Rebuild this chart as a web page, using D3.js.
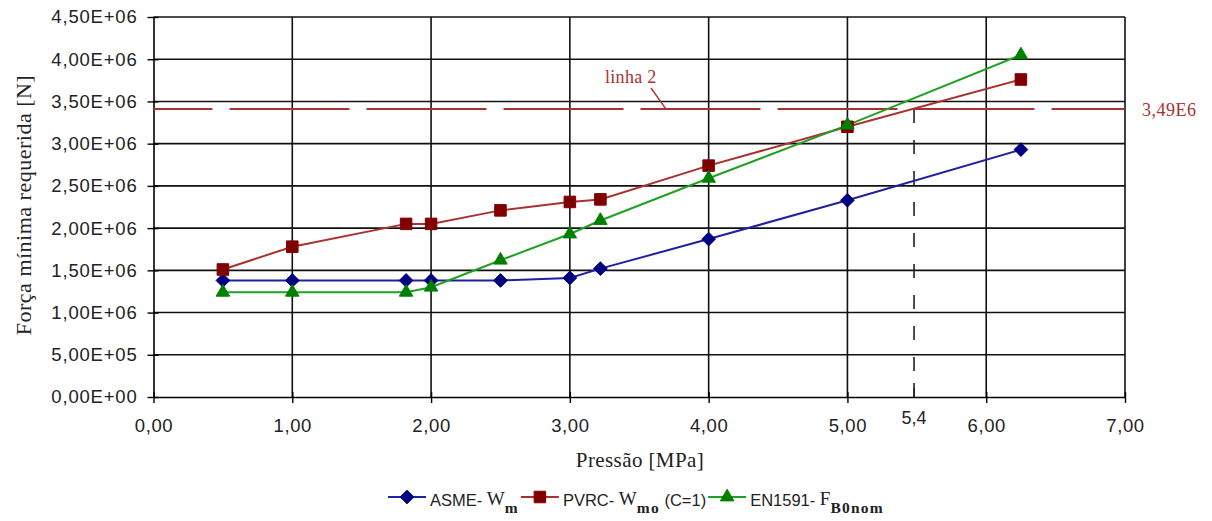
<!DOCTYPE html>
<html><head><meta charset="utf-8">
<script src="https://cdn.jsdelivr.net/npm/d3@7"></script>
<style>body{margin:0;background:#fff} svg{display:block}</style>
</head><body><svg id="c" width="1212" height="521"></svg>
<script>
// ---- data ----
const pressure = [0.5, 1.0, 1.82, 2.0, 2.5, 3.0, 3.22, 4.0, 5.0, 6.25];
const asme   = [1.38e6, 1.38e6, 1.38e6, 1.38e6, 1.38e6, 1.41e6, 1.52e6, 1.87e6, 2.33e6, 2.93e6];
const pvrc   = [1.51e6, 1.78e6, 2.05e6, 2.05e6, 2.21e6, 2.31e6, 2.34e6, 2.74e6, 3.20e6, 3.76e6];
const en1591 = [1.24e6, 1.24e6, 1.24e6, 1.30e6, 1.62e6, 1.93e6, 2.09e6, 2.59e6, 3.22e6, 4.05e6];
const xTicks = [0, 1, 2, 3, 4, 5, 6, 7];
const xTickLabels = ["0,00", "1,00", "2,00", "3,00", "4,00", "5,00", "6,00", "7,00"];
const yTicks = [0, 5e5, 1e6, 1.5e6, 2e6, 2.5e6, 3e6, 3.5e6, 4e6, 4.5e6];
const yTickLabels = ["0,00E+00", "5,00E+05", "1,00E+06", "1,50E+06", "2,00E+06", "2,50E+06", "3,00E+06", "3,50E+06", "4,00E+06", "4,50E+06"];
const refLineValue = 3.41e6;
const refLineLabel = "3,49E6";
const refLineName = "linha 2";
const markPressure = 5.48;
const markLabel = "5,4";
const xTitle = "Pressão [MPa]";
const yTitle = "Força mínima requerida [N]";
const legendNames = [
  ["ASME- ", "W", "m", ""],
  ["PVRC- ", "W", "mo", " (C=1)"],
  ["EN1591- ", "F", "B0nom", ""]
];

// ---- layout ----
const svg = d3.select("#c");
const x = d3.scaleLinear().domain([0, 7]).range([153.5, 1125]);
const y = d3.scaleLinear().domain([0, 4.5e6]).range([397, 17]);
const SANS = "'Liberation Sans', Arial, sans-serif";
const SERIF = "'Liberation Serif', 'Times New Roman', serif";

// gridlines
svg.append("g").selectAll("line").data(yTicks.slice(1)).join("line")
  .attr("x1", x(0)).attr("x2", x(7)).attr("y1", d => y(d)).attr("y2", d => y(d))
  .attr("stroke", "#111").attr("stroke-width", 1.6);
svg.append("g").selectAll("line").data(xTicks.slice(1)).join("line")
  .attr("x1", d => x(d)).attr("x2", d => x(d)).attr("y1", y(0)).attr("y2", y(4.5e6))
  .attr("stroke", "#111").attr("stroke-width", 1.6);

// axes
const yAxis = d3.axisLeft(y).tickValues(yTicks).tickFormat((d, i) => yTickLabels[i])
  .tickSizeInner(6).tickSizeOuter(0).tickPadding(10);
const yg = svg.append("g").attr("transform", `translate(${x(0)},0)`).call(yAxis);
yg.selectAll("text").attr("font-family", SANS).attr("font-size", 18.5).attr("letter-spacing", 0.8).attr("fill", "#222");
yg.selectAll("line").attr("x2", -6).attr("x1", 5).attr("stroke", "#000").attr("stroke-width", 1.4);
yg.select(".domain").attr("stroke", "#000").attr("stroke-width", 1.6);

const xAxis = d3.axisBottom(x).tickValues(xTicks).tickFormat((d, i) => xTickLabels[i])
  .tickSizeInner(6).tickSizeOuter(0).tickPadding(16);
const xg = svg.append("g").attr("transform", `translate(0,${y(0)})`).call(xAxis);
xg.selectAll("text").attr("font-family", SANS).attr("font-size", 18.5).attr("letter-spacing", 0.6).attr("fill", "#222");
xg.selectAll("line").attr("y1", -5).attr("stroke", "#000").attr("stroke-width", 1.4);
xg.select(".domain").attr("stroke", "#000").attr("stroke-width", 1.6);

// titles
svg.append("text").attr("x", 640).attr("y", 467).attr("text-anchor", "middle")
  .attr("font-family", SERIF).attr("font-size", 21).attr("letter-spacing", 0.4).attr("fill", "#222").text(xTitle);
svg.append("text").attr("transform", "translate(31,205) rotate(-90)").attr("text-anchor", "middle")
  .attr("font-family", SERIF).attr("font-size", 22).attr("letter-spacing", 0.5).attr("fill", "#222").text(yTitle);

// reference line (linha 2)
const refColor = "#a83232";
svg.append("line").attr("x1", x(0)).attr("x2", x(7)).attr("y1", y(refLineValue)).attr("y2", y(refLineValue))
  .attr("stroke", refColor).attr("stroke-width", 2).attr("stroke-dasharray", "120,17").attr("stroke-dashoffset", 61);
svg.append("text").attr("x", x(7) + 17).attr("y", y(refLineValue) + 7)
  .attr("font-family", SERIF).attr("font-size", 18).attr("letter-spacing", 0.5).attr("fill", refColor).text(refLineLabel);
svg.append("text").attr("x", 605).attr("y", 83)
  .attr("font-family", SERIF).attr("font-size", 18).attr("letter-spacing", 0.3).attr("fill", refColor).text(refLineName);
svg.append("line").attr("x1", 651).attr("y1", 88).attr("x2", 666).attr("y2", y(refLineValue))
  .attr("stroke", refColor).attr("stroke-width", 1.4);

// vertical marker at 5,4
svg.append("line").attr("x1", x(markPressure)).attr("x2", x(markPressure))
  .attr("y1", y(refLineValue)).attr("y2", y(0))
  .attr("stroke", "#222").attr("stroke-width", 1.6).attr("stroke-dasharray", "14,17");
svg.append("line").attr("x1", x(markPressure)).attr("x2", x(markPressure))
  .attr("y1", y(0) - 14).attr("y2", y(0)).attr("stroke", "#222").attr("stroke-width", 1.6);
svg.append("text").attr("x", x(markPressure)).attr("y", 424).attr("text-anchor", "middle")
  .attr("font-family", SANS).attr("font-size", 18).attr("fill", "#222").text(markLabel);

// series
const series = [
  {name: "ASME", values: asme, line: "#2020a0", fill: "#000080", shape: d3.symbolDiamond2, size: 120},
  {name: "PVRC", values: pvrc, line: "#a83232", fill: "#800000", shape: d3.symbolSquare2, size: 170},
  {name: "EN1591", values: en1591, line: "#22a022", fill: "#008000", shape: d3.symbolTriangle2, size: 130},
];
const line = d3.line().x(d => x(d[0])).y(d => y(d[1]));
series.forEach(s => {
  const pts = pressure.map((p, i) => [p, s.values[i]]);
  svg.append("path").attr("d", line(pts)).attr("fill", "none").attr("stroke", s.line).attr("stroke-width", 2);
});
function marker(g, s, cx, cy) {
  const sym = d3.symbol().type(s.shape).size(s.size);
  g.append("path").attr("d", sym()).attr("transform", `translate(${cx},${cy})`)
    .attr("fill", s.fill).attr("stroke", s.fill).attr("stroke-width", 1);
}
series.forEach(s => {
  const g = svg.append("g");
  pressure.forEach((p, i) => marker(g, s, x(p), y(s.values[i])));
});

// legend: flowing layout measured from rendered text
const leg = svg.append("g");
const ly = 497;
let cx = 388;
series.forEach((s, i) => {
  leg.append("line").attr("x1", cx).attr("x2", cx + 38).attr("y1", ly).attr("y2", ly)
    .attr("stroke", s.line).attr("stroke-width", 2);
  marker(leg, s, cx + 19, ly);
  const [pre, main, sub, post] = legendNames[i];
  const t = leg.append("text").attr("x", cx + 42).attr("y", 506).attr("fill", "#222")
    .attr("font-family", SANS).attr("font-size", 16.5).style("white-space", "pre");
  t.append("tspan").text(pre);
  t.append("tspan").attr("font-family", SERIF).attr("font-size", 19).attr("dy", -1).text(main);
  t.append("tspan").attr("font-family", SERIF).attr("font-size", 15.5).attr("font-weight", "bold")
    .attr("letter-spacing", 1.2).attr("dy", 8).text(sub);
  if (post) t.append("tspan").attr("font-family", SANS).attr("font-size", 16.5).attr("dy", -7).text(post);
  cx = cx + 42 + t.node().getComputedTextLength() + 2;
});
</script></body></html>
